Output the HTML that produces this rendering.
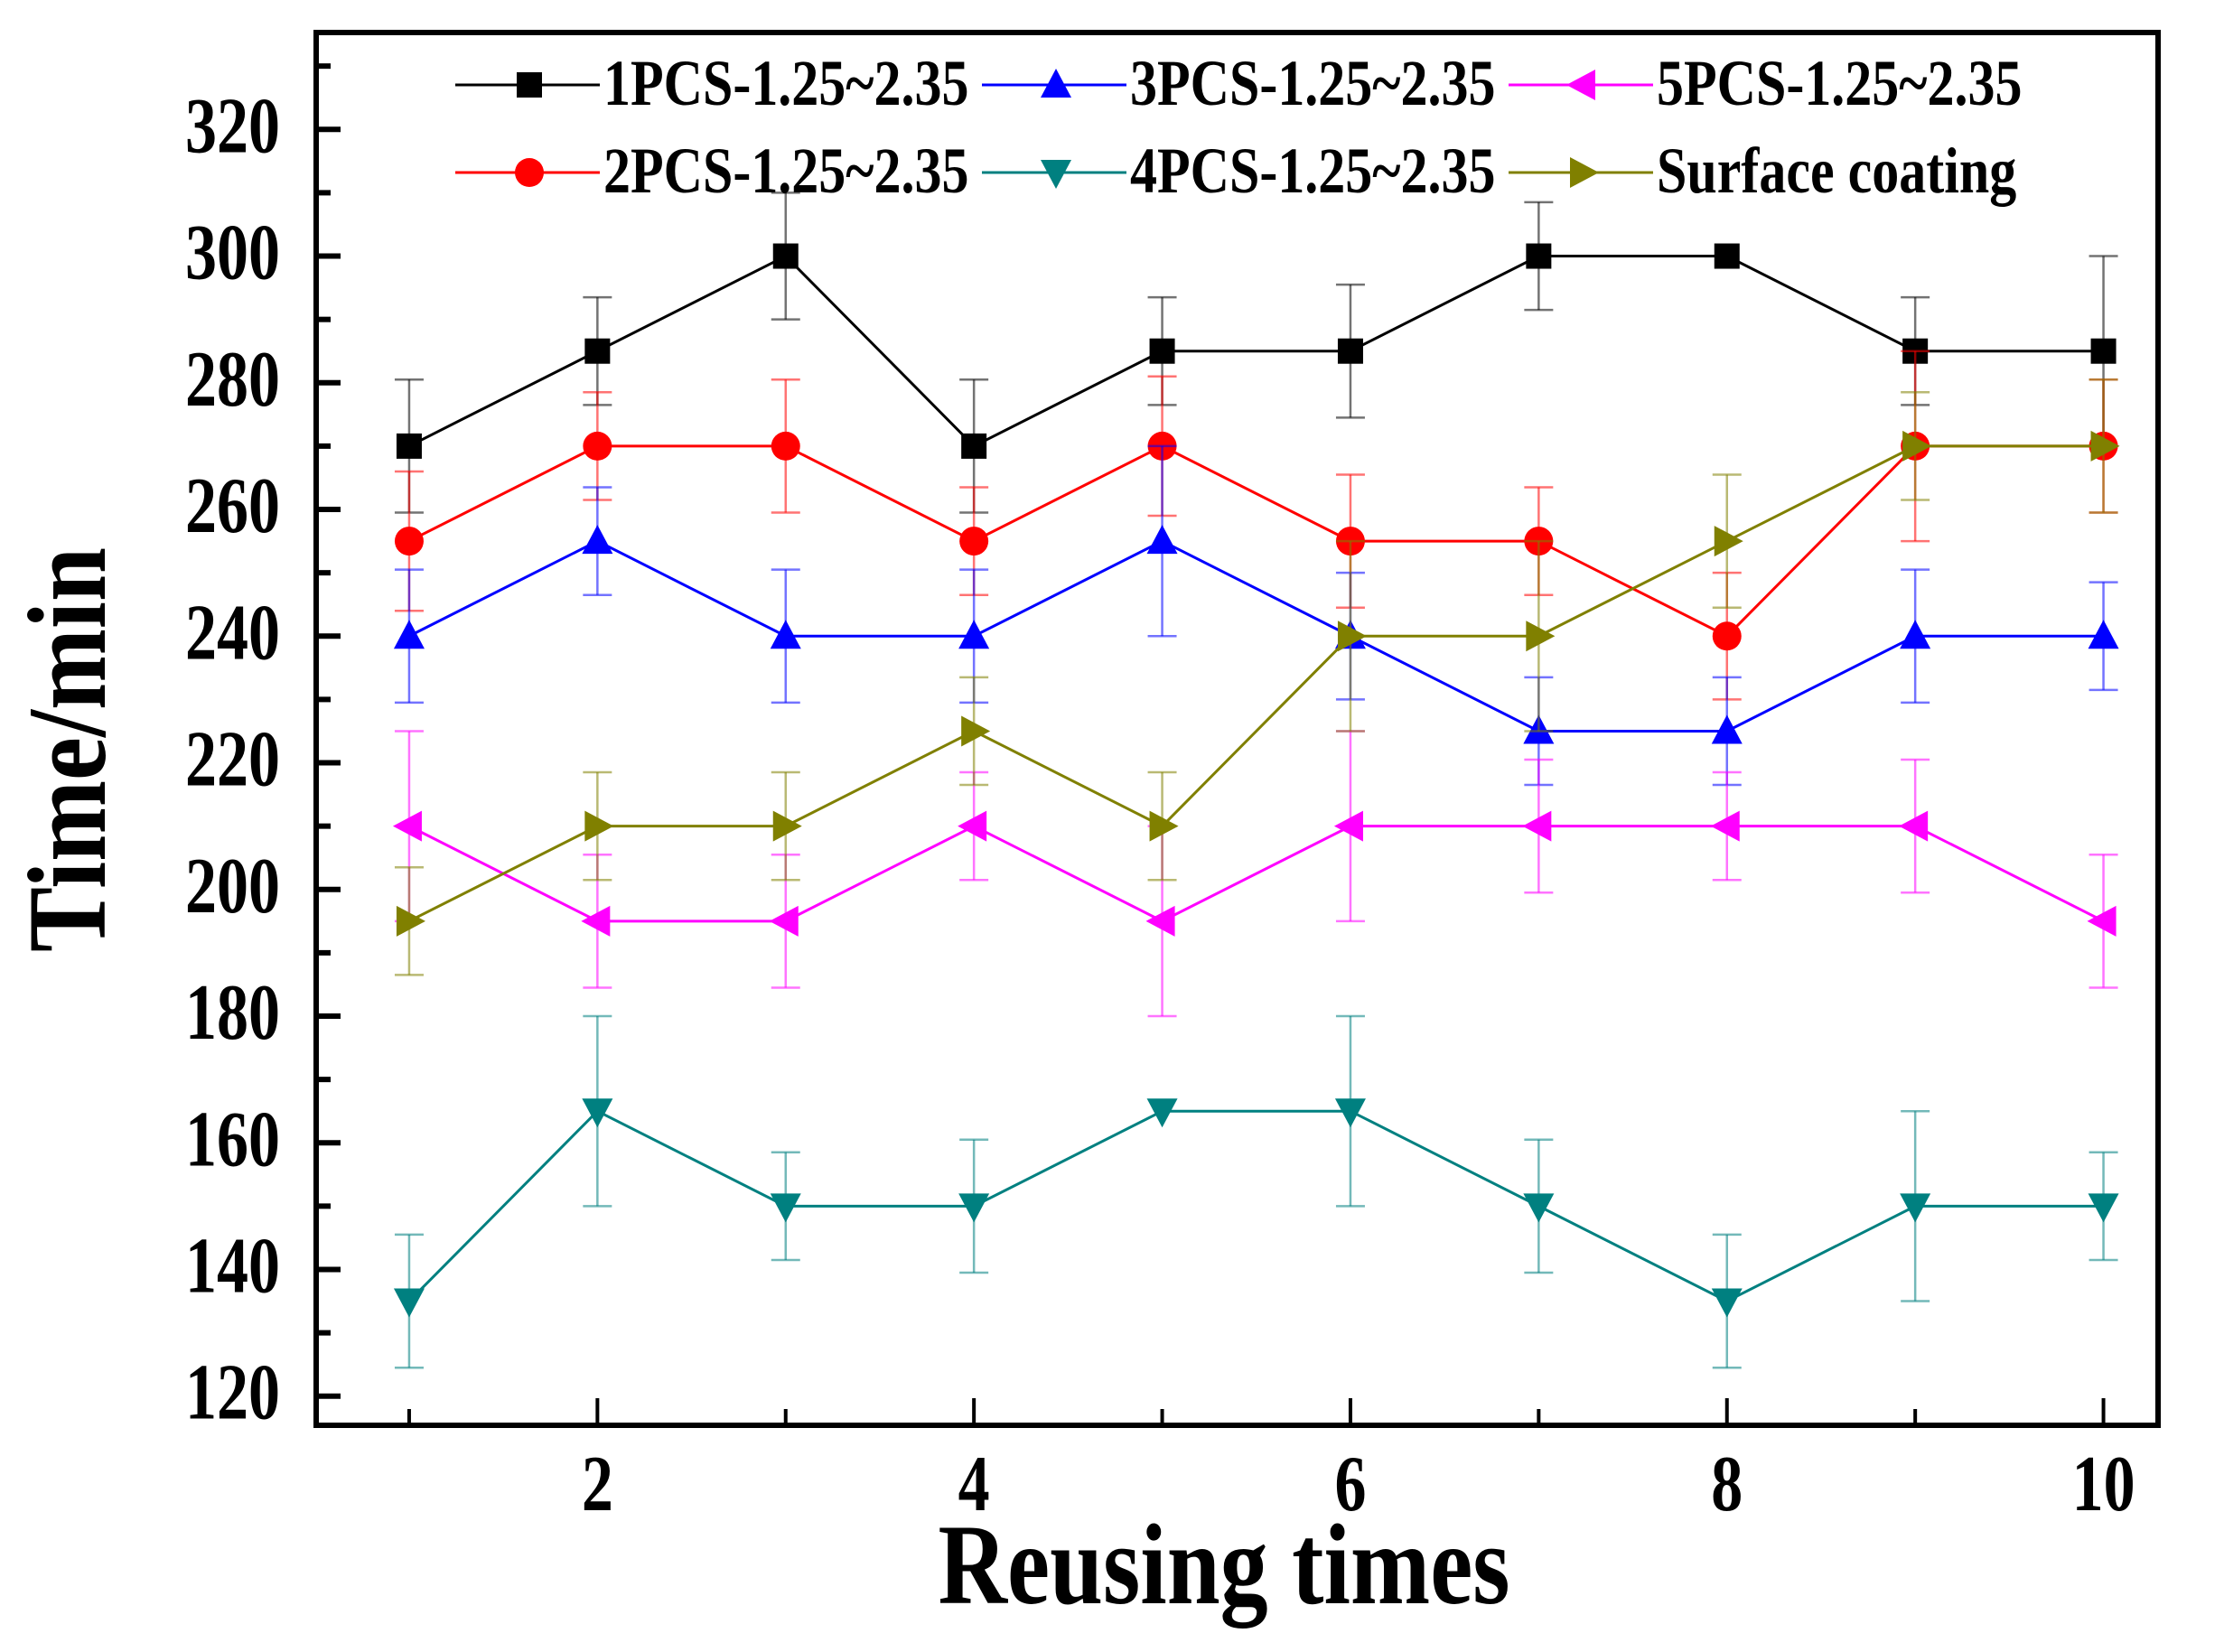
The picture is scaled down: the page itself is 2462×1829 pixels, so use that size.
<!DOCTYPE html>
<html><head><meta charset="utf-8"><style>
html,body{margin:0;padding:0;background:#fff;}
svg{display:block;font-family:"Liberation Serif",serif;font-weight:bold;}
</style></head><body>
<svg id="chart" width="2462" height="1829" viewBox="0 0 2462 1829" xmlns="http://www.w3.org/2000/svg"></svg>
<script>
const xCategories=[1,2,3,4,5,6,7,8,9,10];
const yTicks=[120,140,160,180,200,220,240,260,280,300,320];
const xTicks=[2,4,6,8,10];
const seriesNames=["1PCS-1.25~2.35","2PCS-1.25~2.35","3PCS-1.25~2.35","4PCS-1.25~2.35","5PCS-1.25~2.35","Surface coating"];
const s1=[270,285,300,270,285,285,300,300,285,285];
const e1=[10.5,8.5,10,10.5,8.5,10.5,8.5,0,8.5,15];
const s2=[255,270,270,255,270,255,255,240,270,270];
const e2=[11,8.5,10.5,8.5,11,10.5,8.5,10,15,10.5];
const s3=[240,255,240,240,255,240,225,225,240,240];
const e3=[10.5,8.5,10.5,10.5,15,10,8.5,8.5,10.5,8.5];
const s4=[135,165,150,150,165,165,150,135,150,150];
const e4=[10.5,15,8.5,10.5,0,15,10.5,10.5,15,8.5];
const s5=[210,195,195,210,195,210,210,210,210,195];
const e5=[15,10.5,10.5,8.5,15,15,10.5,8.5,10.5,10.5];
const s6=[195,210,210,225,210,240,240,255,270,270];
const e6=[8.5,8.5,8.5,8.5,8.5,15,15,10.5,8.5,10.5];

const NS="http://www.w3.org/2000/svg";
const svg=document.getElementById('chart');
const L=350,R=2389,T=36,B=1578;
const xMin=0.506,xMax=10.29,yMin=115.4,yMax=335.3;
function xs(v){return L+(v-xMin)/(xMax-xMin)*(R-L);}
function ys(v){return B-(v-yMin)/(yMax-yMin)*(B-T);}
function mk(tag,attrs,parent){const e=document.createElementNS(NS,tag);for(const k in attrs)e.setAttribute(k,attrs[k]);(parent||svg).appendChild(e);return e;}
function txt(x,y,size,anchor,sy,parent){return mk('text',{x:0,y:0,'text-anchor':anchor,'font-size':size,transform:'translate('+x+','+y+') scale(1,'+sy+')'},parent);}

const colors=["#000000","#ff0000","#0000ff","#008080","#ff00ff","#808000"];
const shapes=["square","circle","up","down","left","right"];
const data=[s1,s2,s3,s4,s5,s6];
const errs=[e1,e2,e3,e4,e5,e6];

function marker(g,shape,cx,cy,color){
  const r=14;let el;
  if(shape==="square")el=mk('rect',{x:cx-r,y:cy-r,width:2*r,height:2*r,fill:color},g);
  else if(shape==="circle")el=mk('circle',{cx:cx,cy:cy,r:r+2,fill:color},g);
  else{let p;
    if(shape==="up")p=[[cx,cy-r-4],[cx-r-3,cy+r],[cx+r+3,cy+r]];
    if(shape==="down")p=[[cx,cy+r+4],[cx-r-3,cy-r],[cx+r+3,cy-r]];
    if(shape==="left")p=[[cx-r-4,cy],[cx+r,cy-r-3],[cx+r,cy+r+3]];
    if(shape==="right")p=[[cx+r+4,cy],[cx-r,cy-r-3],[cx-r,cy+r+3]];
    el=mk('polygon',{points:p.map(a=>a.join(',')).join(' '),fill:color},g);}
  return el;
}

const frame=mk('rect',{x:L,y:T,width:R-L,height:B-T,fill:'none',stroke:'#000','stroke-width':6});



for(let v=120;v<=330;v+=10){
  const major=v%20===0;
  const t=mk('line',{x1:L,x2:L+(major?27:16),y1:ys(v),y2:ys(v),stroke:'#000','stroke-width':6});
  
  
}
yTicks.forEach(v=>{
  const t=txt(310,ys(v)+25,70,'end',1.25);
  t.textContent=v;
  
  
});
xCategories.forEach(v=>{
  const major=v%2===0;
  const t=mk('line',{x1:xs(v),x2:xs(v),y1:B,y2:B-(major?30:18),stroke:'#000','stroke-width':4});
  
  
});
xTicks.forEach(v=>{
  const t=txt(xs(v),1672,70,'middle',1.25);
  t.textContent=v;
  
  
});
const xt=txt(1355,1775,106,'middle',1.2);
xt.textContent="Reusing times";


const yt=mk('text',{x:0,y:0,'text-anchor':'middle','font-size':108,transform:'translate(116,830) rotate(-90) scale(1,1.15)'});
yt.textContent="Time/min";



data.forEach((arr,si)=>{
  const g=mk('g',{});
  
  
  const c=colors[si];
  arr.forEach((v,i)=>{
    const e=errs[si][i];if(!e)return;
    const x=xs(xCategories[i]);
    const eb=mk('g',{stroke:c,'stroke-opacity':0.55,'stroke-width':2.5},g);
    
    
    mk('line',{x1:x,x2:x,y1:ys(v+e),y2:ys(v-e)},eb);
    mk('line',{x1:x-16,x2:x+16,y1:ys(v+e),y2:ys(v+e)},eb);
    mk('line',{x1:x-16,x2:x+16,y1:ys(v-e),y2:ys(v-e)},eb);
  });
  const pl=mk('polyline',{points:arr.map((v,i)=>xs(xCategories[i])+','+ys(v)).join(' '),fill:'none',stroke:c,'stroke-width':3},g);
  
  
  arr.forEach((v,i)=>{
    const m=marker(g,shapes[si],xs(xCategories[i]),ys(v),c);
    
    
  });
});

const legPos=[[0,0],[0,1],[1,0],[1,1],[2,0],[2,1]];
const colX=[504,1087,1670],rowY=[94,191];
seriesNames.forEach((n,si)=>{
  const g=mk('g',{});
  
  
  const x0=colX[legPos[si][0]],y=rowY[legPos[si][1]],c=colors[si];
  mk('line',{x1:x0,x2:x0+160,y1:y,y2:y,stroke:c,'stroke-width':3},g);
  marker(g,shapes[si],x0+82,y,c);
  const t=txt(x0+164,y+22,60,'start',1.2,g);
  t.textContent=n;
});
</script>
</body></html>
